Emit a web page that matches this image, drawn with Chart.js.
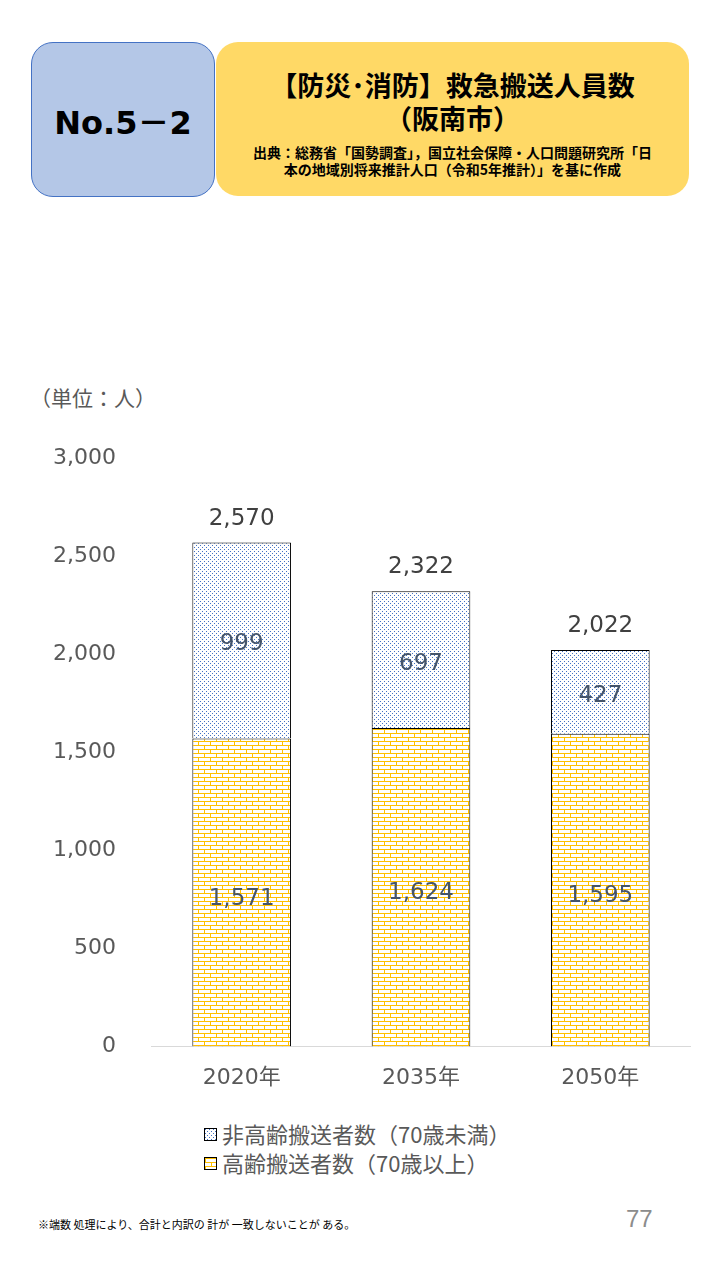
<!DOCTYPE html>
<html><head><meta charset="utf-8">
<script src="https://cdn.jsdelivr.net/npm/chart.js@4"></script>
<style>
body{margin:0;width:720px;height:1280px;background:#fff;font-family:"Noto Sans CJK JP","Noto Sans",sans-serif;position:relative;overflow:hidden}
.no{position:absolute;left:31px;top:42px;width:184px;height:155px;background:#b4c7e7;border:1px solid #4472c4;border-radius:22px;box-sizing:border-box;display:flex;align-items:center;justify-content:center;font:bold 32px "DejaVu Sans","Noto Sans CJK JP";color:#000}
.ttl{position:absolute;left:216px;top:42px;width:473px;height:154px;background:#ffd966;border-radius:22px;text-align:center}
.ttl h1{margin:26px 0 0;font-size:27px;line-height:33px;font-weight:bold}
.ttl p{margin:10px 0 0;font-size:14px;line-height:17px;font-weight:bold}
.unit{position:absolute;left:30px;top:382px;font-size:21px;color:#595959}
#wrap{position:absolute;left:0;top:417px;width:720px;height:684px}
.leg{position:absolute;left:204px;top:1119px;font-size:22px;line-height:29px;color:#595959}
.leg span{display:inline-block;width:11px;height:11px;border:1px solid #000;margin-right:5px;vertical-align:2px}
.note{position:absolute;left:38px;top:1216px;font-size:11px;color:#000}
.pg{position:absolute;left:626px;top:1205px;font:24px "Liberation Sans";color:#8c8c8c}
</style></head><body>
<div class="no">No.5－2</div>
<div class="ttl"><h1>【防災･消防】救急搬送人員数<br>（阪南市）</h1>
<p>出典：総務省「国勢調査」，国立社会保障・人口問題研究所「日<br>本の地域別将来推計人口（令和5年推計）」を基に作成</p></div>
<div class="unit">（単位：人）</div>
<div id="wrap"><canvas id="c"></canvas></div>
<div class="leg"><div><span id="l1"></span>非高齢搬送者数（70歳未満）</div><div><span id="l2"></span>高齢搬送者数（70歳以上）</div></div>
<div class="note">※端数 処理により、合計と内訳の 計が 一致しないことが ある。</div>
<div class="pg">77</div>
<script>
const categories=['2020年','2035年','2050年'];
const elderly=[1571,1624,1595];
const nonElderly=[999,697,427];
const totals=[2570,2322,2022];

function dots(){const c=document.createElement('canvas');c.width=4;c.height=4;const g=c.getContext('2d');
g.fillStyle='#fff';g.fillRect(0,0,4,4);g.fillStyle='#4472c4';g.fillRect(0,0,1,1);g.fillRect(2,2,1,1);
return c;}
function bricks(){const c=document.createElement('canvas');c.width=12;c.height=8;const g=c.getContext('2d');
g.fillStyle='#fff';g.fillRect(0,0,12,8);g.fillStyle='#ffc000';
g.fillRect(0,0,12,1);g.fillRect(0,4,12,1);g.fillRect(0,0,1,4);g.fillRect(6,4,1,4);return c;}
const ctx=document.getElementById('c').getContext('2d');
const pDots=ctx.createPattern(dots(),'repeat'),pBr=ctx.createPattern(bricks(),'repeat');
document.getElementById('l1').style.background='url('+dots().toDataURL()+')';
document.getElementById('l2').style.background='url('+bricks().toDataURL()+')';
const numFont='"DejaVu Sans","Noto Sans CJK JP"';

const labelPlugin={id:'lbl',afterDatasetsDraw(ch){const g=ch.ctx;g.save();g.textAlign='center';g.textBaseline='middle';
g.font='23px '+numFont;
ch.data.datasets.forEach((ds,di)=>{ch.getDatasetMeta(di).data.forEach((b,i)=>{
 g.fillStyle='#44546a';g.fillText(ds.data[i].toLocaleString(),b.x,di===0?b.y+(b.base-b.y)*0.5+6:(b.y+b.base)/2+4);});});
ch.getDatasetMeta(1).data.forEach((b,i)=>{g.fillStyle='#404040';g.fillText(totals[i].toLocaleString(),b.x,b.y-24);});
g.restore();}};

new Chart(ctx,{type:'bar',
data:{labels:categories,datasets:[
 {label:'高齢搬送者数（70歳以上）',data:elderly,backgroundColor:pBr,borderColor:'#000',borderWidth:1,barPercentage:0.55,categoryPercentage:1},
 {label:'非高齢搬送者数（70歳未満）',data:nonElderly,backgroundColor:pDots,borderColor:'#000',borderWidth:1,barPercentage:0.55,categoryPercentage:1}]},
options:{responsive:true,maintainAspectRatio:false,animation:false,
 layout:{padding:{left:25,right:30,top:12,bottom:0}},
 plugins:{legend:{display:false},tooltip:{enabled:false}},
 scales:{
  x:{stacked:true,grid:{display:false},border:{color:'#d9d9d9'},
     ticks:{color:'#595959',font:{size:22,family:numFont},padding:10}},
  y:{stacked:true,min:0,max:3000,ticks:{stepSize:500,color:'#595959',font:{size:22,family:numFont},padding:28},
     grid:{display:false},border:{display:false}}}},
plugins:[labelPlugin]});
</script></body></html>
